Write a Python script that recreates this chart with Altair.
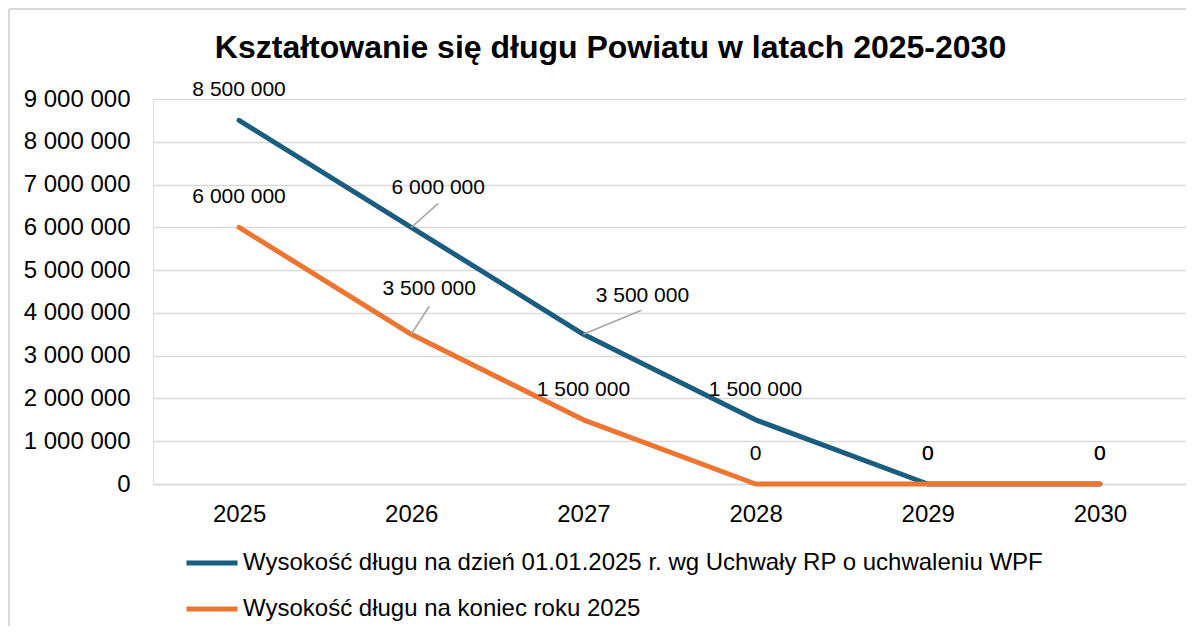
import altair as alt
import pandas as pd

years = ["2025", "2026", "2027", "2028", "2029", "2030"]
series_names = [
    "Wysokość długu na dzień 01.01.2025 r. wg Uchwały RP o uchwaleniu WPF",
    "Wysokość długu na koniec roku 2025",
]
debt_plan = [8500000, 6000000, 3500000, 1500000, 0, 0]
debt_end = [6000000, 3500000, 1500000, 0, 0, 0]
colors = ["#1b5d7f", "#ed7431"]
y_ticks = [0, 1000000, 2000000, 3000000, 4000000, 5000000, 6000000, 7000000, 8000000, 9000000]

rows = []
for i, y in enumerate(years):
    rows.append({"year": y, "series": series_names[0], "value": debt_plan[i]})
for i, y in enumerate(years):
    rows.append({"year": y, "series": series_names[1], "value": debt_end[i]})
df = pd.DataFrame(rows)

FONT = "Liberation Sans"
S0, S1 = series_names

x_scale = alt.Scale(type="point", domain=years, padding=0.5)
x_enc = alt.X("year:O", scale=x_scale,
              axis=alt.Axis(title=None, labelAngle=0, labelFontSize=24, labelFont=FONT,
                            labelColor="#000000", labelPadding=18, ticks=False,
                            domainColor="#d9d9d9", domainWidth=1.5, grid=False))
y_enc = alt.Y("value:Q", scale=alt.Scale(domain=[0, 9000000], nice=False),
              axis=alt.Axis(title=None, values=y_ticks, labelFontSize=24, labelFont=FONT,
                            labelColor="#000000", labelPadding=23, ticks=False, domain=False,
                            gridColor="#d9d9d9", gridWidth=1.5,
                            labelExpr="replace(format(datum.value, ','), /,/g, ' ')"))
color_enc = alt.Color("series:N", scale=alt.Scale(domain=series_names, range=colors),
                      legend=alt.Legend(title=None, orient="none", legendX=31, legendY=454,
                                        direction="vertical", symbolType="stroke",
                                        symbolSize=2601, symbolStrokeWidth=5,
                                        labelFontSize=24, labelFont=FONT, labelColor="#000000",
                                        labelOffset=3, clipHeight=20, rowPadding=22,
                                        padding=0, labelLimit=1000))

base = alt.Chart(df)

line0 = base.transform_filter(alt.datum.series == S0).mark_line(
    strokeWidth=5, strokeJoin="round", strokeCap="round").encode(x=x_enc, y=y_enc, color=color_enc)
line1 = base.transform_filter(alt.datum.series == S1).mark_line(
    strokeWidth=5, strokeJoin="round", strokeCap="round").encode(x=x_enc, y=y_enc, color=color_enc)

lab_base = base.transform_calculate(label="replace(format(datum.value, ','), /,/g, ' ')")
moved = (
    "(datum.series == '%s' && (datum.year == '2026' || datum.year == '2027')) || "
    "(datum.series == '%s' && datum.year == '2026')" % (S0, S1)
)
text_props = dict(fontSize=21, font=FONT, color="#000000", baseline="middle", align="center")

labels_default = lab_base.transform_filter("!(" + moved + ")").mark_text(dy=-30, **text_props).encode(
    x=alt.X("year:O", scale=x_scale), y="value:Q", text="label:N")


def moved_label(series, year, dx, dy, lx, ly):
    sel = lab_base.transform_filter((alt.datum.series == series) & (alt.datum.year == year))
    txt = sel.mark_text(dx=dx, dy=dy, **text_props).encode(
        x=alt.X("year:O", scale=x_scale), y="value:Q", text="label:N")
    rule = sel.mark_rule(color="#a6a6a6", strokeWidth=1.5, x2Offset=lx, y2Offset=ly).encode(
        x=alt.X("year:O", scale=x_scale), y="value:Q", x2="year:O", y2="value:Q")
    return [rule, txt]


extra = []
extra += moved_label(S0, "2026", 27, -39, 27, -24)
extra += moved_label(S1, "2026", 18, -45, 18, -28)
extra += moved_label(S0, "2027", 59, -38, 58, -24)

frame_top = alt.Chart(pd.DataFrame({"k": [0]})).mark_rule(color="#d9d9d9", strokeWidth=2).encode(
    x=alt.value(-144), x2=alt.value(1060), y=alt.value(-90))
frame_left = alt.Chart(pd.DataFrame({"k": [0]})).mark_rule(color="#d9d9d9", strokeWidth=2).encode(
    x=alt.value(-144), y=alt.value(-90), y2=alt.value(540))

chart = alt.layer(frame_top, frame_left, line0, line1, *extra, labels_default).properties(
    width=1033, height=385,
    padding={"left": 145, "top": 91, "right": 0, "bottom": 142},
    autosize=alt.AutoSizeParams(type="none"),
    title=alt.TitleParams("Kształtowanie się długu Powiatu w latach 2025-2030",
                          font=FONT, fontSize=32, fontWeight="bold", color="#000000",
                          anchor="middle", frame="group", dx=-59, offset=-89,
                          baseline="bottom"),
).configure_view(stroke=None).configure(background="white")

chart.save("out.html", embed_options={"renderer": "svg", "actions": False})
